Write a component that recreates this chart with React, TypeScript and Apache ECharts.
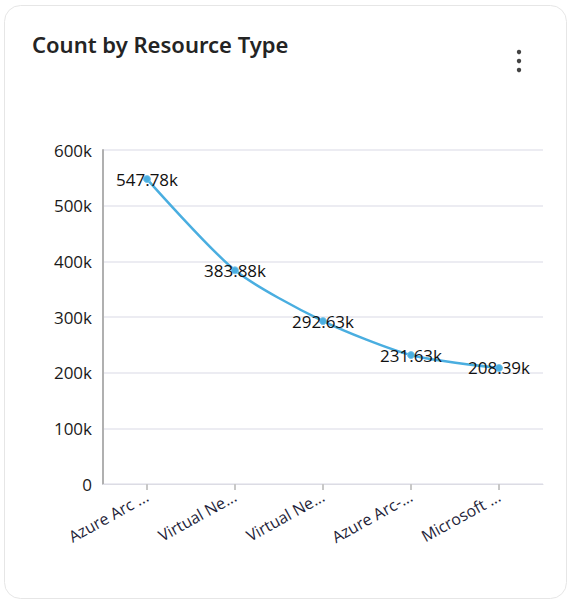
import React, { useEffect, useRef } from "react";
import * as echarts from "echarts";

const categories = ["Azure Arc ...", "Virtual Ne...", "Virtual Ne...", "Azure Arc-...", "Microsoft ..."];
const values = [547780, 383880, 292630, 231630, 208390];
const yTicks = [0, 100000, 200000, 300000, 400000, 500000, 600000];

export default function App() {
  const ref = useRef<HTMLDivElement>(null);
  useEffect(() => {
    document.body.style.margin = "0";
    const chart = echarts.init(ref.current!, null, { renderer: "svg" });
    chart.setOption({
      animation: false,
      backgroundColor: "#ffffff",
      textStyle: { fontFamily: "Open Sans" },
      title: {
        text: "Count by Resource Type",
        left: 27,
        top: 28,
        textStyle: { fontFamily: "Noto Sans", fontSize: 22, fontWeight: 600, color: "#242424" },
      },
      graphic: [
        {
          type: "rect",
          shape: { x: 4.5, y: 5.5, width: 562, height: 593, r: 16 },
          style: { fill: "none", stroke: "#e6e6e6", lineWidth: 1 },
          z: -1,
        },
        { type: "circle", shape: { cx: 519, cy: 52, r: 2.2 }, style: { fill: "#444" } },
        { type: "circle", shape: { cx: 519, cy: 61, r: 2.2 }, style: { fill: "#444" } },
        { type: "circle", shape: { cx: 519, cy: 70, r: 2.2 }, style: { fill: "#444" } },
      ],
      grid: { left: 103, right: 28, top: 150, bottom: 119, containLabel: false },
      xAxis: {
        type: "category",
        data: categories,
        boundaryGap: true,
        axisLine: { show: true, lineStyle: { color: "#dcdce4", width: 1 } },
        axisTick: { show: true, alignWithLabel: true, length: 6, lineStyle: { color: "#c8c8c8", width: 2 } },
        axisLabel: { rotate: 29, margin: 11, fontSize: 16, color: "#1f1f3a", fontFamily: "Open Sans", interval: 0 },
        splitLine: { show: false },
      },
      yAxis: {
        type: "value",
        min: 0,
        max: 600000,
        interval: 100000,
        axisLine: { show: true, lineStyle: { color: "#b0b0b0", width: 2 } },
        axisTick: { show: false },
        axisLabel: {
          margin: 11,
          fontSize: 17,
          color: "#1a1a1a",
          fontFamily: "Open Sans",
          formatter: (v: number) => (yTicks.includes(v) ? (v === 0 ? "0" : v / 1000 + "k") : ""),
        },
        splitLine: { show: true, lineStyle: { color: "#ececf2", width: 2 } },
      },
      series: [
        {
          type: "line",
          data: values,
          smooth: 0.25,
          symbol: "circle",
          symbolSize: 7,
          itemStyle: { color: "#4aaee0", borderColor: "#7cc6ea", borderWidth: 1 },
          lineStyle: { color: "#4aaee0", width: 2.5 },
          label: {
            show: true,
            position: "inside",
            fontSize: 17,
            color: "#111",
            fontFamily: "Open Sans",
            formatter: (p: any) => (p.value / 1000).toFixed(2) + "k",
          },
        },
      ],
    });
    return () => chart.dispose();
  }, []);
  return <div ref={ref} style={{ width: 571, height: 603 }} />;
}
